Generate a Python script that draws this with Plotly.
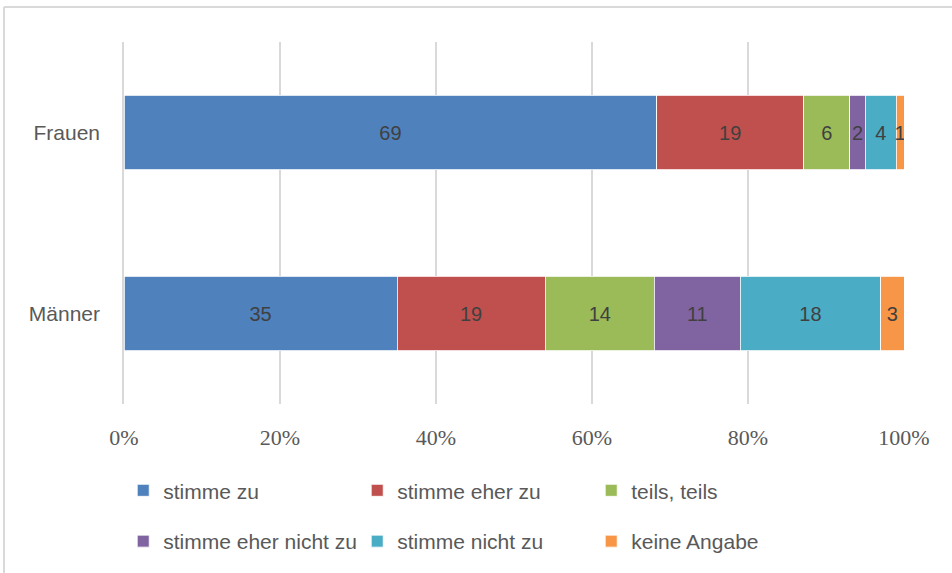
import plotly.graph_objects as go

groups = ["Männer", "Frauen"]
answers = ["stimme zu", "stimme eher zu", "teils, teils",
           "stimme eher nicht zu", "stimme nicht zu", "keine Angabe"]
maenner = [35, 19, 14, 11, 18, 3]
frauen = [69, 19, 6, 2, 4, 1]
colors = ["#4F81BD", "#C0504D", "#9BBB59", "#8064A2", "#4BACC6", "#F79646"]
ticks = [0, 20, 40, 60, 80, 100]
tick_text = ["0%", "20%", "40%", "60%", "80%", "100%"]

SANS = "Liberation Sans, Arial, sans-serif"

fig = go.Figure()
for i, name in enumerate(answers):
    vals = [maenner[i], frauen[i]]
    fig.add_trace(go.Bar(
        y=groups, x=vals, name=name, orientation="h",
        marker=dict(color=colors[i], line=dict(color="white", width=0.8)),
        text=vals, texttemplate="%{text}", textposition="inside",
        insidetextanchor="middle", constraintext="none", textangle=0,
        textfont=dict(family=SANS, size=20, color="#404040"),
        legend="legend" if i < 3 else "legend2",
        hoverinfo="skip",
    ))

legend_style = dict(orientation="h", xanchor="left", yanchor="middle",
                    x=-0.001, entrywidth=189, entrywidthmode="pixels",
                    traceorder="normal", itemwidth=30,
                    font=dict(family=SANS, size=21, color="#595959"),
                    bgcolor="rgba(0,0,0,0)")

fig.update_layout(
    barmode="stack", barnorm="percent", bargap=0.59,
    width=952, height=573,
    margin=dict(l=124, r=48, t=42, b=168),
    paper_bgcolor="white", plot_bgcolor="white",
    font=dict(family=SANS, size=20, color="#595959"),
    xaxis=dict(range=[0, 100], tickvals=ticks, ticktext=tick_text,
               showgrid=True, gridcolor="#D9D9D9", gridwidth=1.5,
               zeroline=False, ticks="", ticklabelstandoff=18,
               automargin=False,
               tickfont=dict(family="Liberation Serif, serif", size=22,
                             color="#595959")),
    yaxis=dict(showgrid=False, zeroline=False, ticks="",
               showline=True, linecolor="#D9D9D9", linewidth=1.5,
               ticklabelstandoff=18, automargin=False,
               tickfont=dict(family=SANS, size=21, color="#595959")),
    legend=dict(legend_style, y=-0.236),
    legend2=dict(legend_style, y=-0.376),
    showlegend=True,
)

# outer chart frame: only left and top edges are visible in the picture
fx0 = (4 - 124) / 780
fy1 = 1 + (42 - 7) / 363
fig.add_shape(type="line", xref="paper", yref="paper",
              x0=fx0, x1=fx0, y0=-0.6, y1=fy1,
              line=dict(color="#D9D9D9", width=2), layer="below")
fig.add_shape(type="line", xref="paper", yref="paper",
              x0=fx0, x1=1.1, y0=fy1, y1=fy1,
              line=dict(color="#D9D9D9", width=2), layer="below")

fig.write_html("out.html", config={"displayModeBar": False},
               post_script="document.body.style.margin='0';")
